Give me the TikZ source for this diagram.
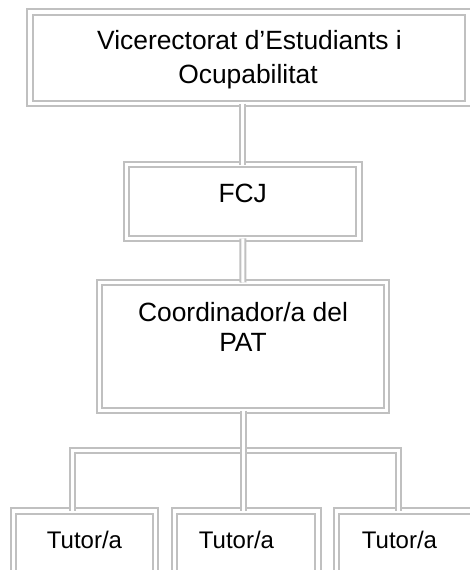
\documentclass[tikz,border=0pt]{standalone}
\usepackage{fontspec}
\setmainfont{Liberation Sans}
\definecolor{silver}{RGB}{192,192,192}
\tikzset{
  dbox/.style={draw=silver, line width=2pt, double=white, double distance=3.5pt,
    rectangle, inner sep=0pt, outer sep=0pt},
  conn/.style={draw=silver, line width=2pt, double=white, double distance=3pt},
  bigtxt/.style={font=\fontsize{26.4}{30}\selectfont, anchor=base, inner sep=0pt},
  smalltxt/.style={font=\fontsize{24}{28}\selectfont, anchor=base, inner sep=0pt},
}
\begin{document}
\begin{tikzpicture}[x=1pt,y=-1pt]
\useasboundingbox (0,0) rectangle (470,570);
\clip (0,0) rectangle (470,570);
% coordinates for the tree bar
\coordinate (j1) at (72,450);
\coordinate (j3) at (398.5,450);
% boxes
\node[dbox, minimum width=438pt, minimum height=91.5pt] (vice) at (249,57.75) {};
\node[dbox, minimum width=232.5pt, minimum height=74pt] (fcj) at (242.75,201.5) {};
\node[dbox, minimum width=287pt, minimum height=128pt] (coord) at (243,346.5) {};
\node[dbox, minimum width=142pt, minimum height=74pt] (t1) at (84.5,548) {};
\node[dbox, minimum width=143.5pt, minimum height=74pt] (t2) at (246.25,548) {};
\node[dbox, minimum width=142.5pt, minimum height=74pt] (t3) at (407.75,548) {};
% connectors
\draw[conn] (fcj.north |- vice.south) -- (fcj.north);
\draw[conn] (fcj.south) -- (coord.north);
\draw[conn] (j1 |- t1.north) -- (j1) -- (j3) -- (j3 |- t3.north);
\draw[conn] (coord.south) -- (coord.south |- t2.north);
% texts
\node[bigtxt] (vicea) at (249.5,49.5) {Vicerectorat d’Estudiants i};
\node[bigtxt] (viceb) at (248,83.5) {Ocupabilitat};
\node[bigtxt] (fcjt) at (242.75,202) {FCJ};
\node[bigtxt] (coorda) at (243,321) {Coordinador/a del};
\node[bigtxt] (coordb) at (243,351) {PAT};
\node[smalltxt] (t1t) at (84.5,548) {Tutor/a};
\node[smalltxt] (t2t) at (236.5,548) {Tutor/a};
\node[smalltxt] (t3t) at (399.5,548) {Tutor/a};
\end{tikzpicture}
\end{document}
